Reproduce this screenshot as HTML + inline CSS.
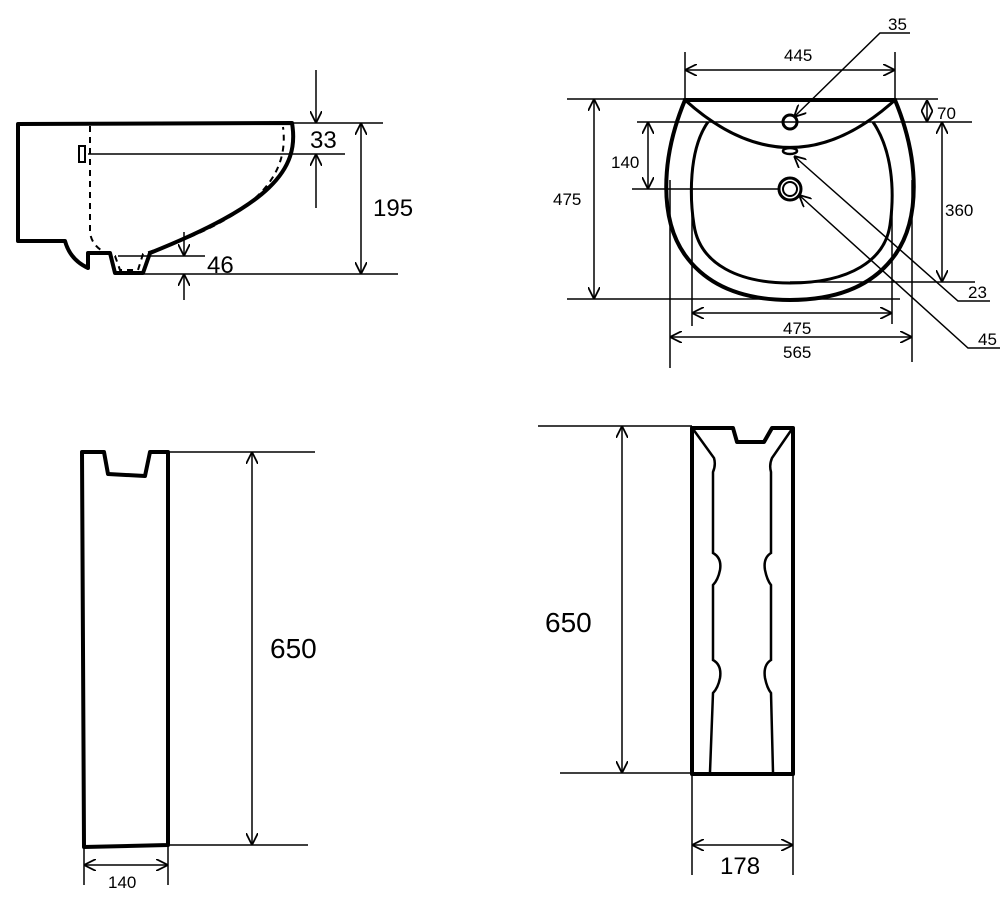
<!DOCTYPE html>
<html><head><style>body{margin:0;background:#fff}svg{display:block}text{font-family:"Liberation Sans",Arial,sans-serif;fill:#000}</style></head>
<body>
<svg width="1000" height="921" viewBox="0 0 1000 921" xmlns="http://www.w3.org/2000/svg">
<defs>
<marker id="a" viewBox="0 0 10 10" refX="10" refY="5" markerWidth="12" markerHeight="12" markerUnits="userSpaceOnUse" orient="auto-start-reverse"><path d="M0,0 L10,5 L0,10" fill="none" stroke="#000" stroke-width="1.5"/></marker>
</defs>
<g fill="none" stroke="#000">
<!-- Top-left side view -->
<path d="M18,124 L292,123 C300,170 270,205 150,253 L143,273 L115,273 L110,253 L88,253 L88,268 C75,262 68,252 65,241 L18,241 Z" stroke-width="4" stroke-linejoin="round"/>
<path d="M90,126 L90,232 Q92,250 115,256 L120,270 L138,270 L143,254 C250,220 290,180 283,127" stroke-width="2" stroke-dasharray="6,5"/>
<rect x="79" y="146" width="6" height="16" stroke-width="2"/>
<g stroke-width="1.5">
<line x1="88" y1="154" x2="345" y2="154"/>
<line x1="292" y1="123" x2="383" y2="123"/>
<line x1="140" y1="274" x2="398" y2="274"/>
<line x1="118" y1="256" x2="205" y2="256"/>
<line x1="316" y1="70" x2="316" y2="123" marker-end="url(#a)"/>
<line x1="316" y1="208" x2="316" y2="154" marker-end="url(#a)"/>
<line x1="361" y1="123" x2="361" y2="274" marker-start="url(#a)" marker-end="url(#a)"/>
<line x1="184" y1="232" x2="184" y2="256" marker-end="url(#a)"/>
<line x1="184" y1="300" x2="184" y2="274" marker-end="url(#a)"/>
</g>
<!-- Top-right plan view -->
<path d="M685,100 L895,100 C920,160 920,220 895,255 C870,290 830,300 790,300 C750,300 710,290 685,255 C660,220 660,160 685,100 Z" stroke-width="4"/>
<path d="M685,100 Q790,195 895,100" stroke-width="3"/>
<path d="M708,122 C688,150 690,200 694,225 C700,265 740,283 790,283 C850,283 885,260 890,225 C895,190 892,150 873,122" stroke-width="3"/>
<circle cx="790" cy="122" r="7" stroke-width="3"/>
<ellipse cx="790" cy="151" rx="7" ry="3" stroke-width="2.5"/>
<circle cx="790" cy="189" r="11" stroke-width="3"/>
<circle cx="790" cy="189" r="7" stroke-width="2"/>
<g stroke-width="1.5">
<line x1="685" y1="52" x2="685" y2="100"/>
<line x1="895" y1="52" x2="895" y2="100"/>
<line x1="685" y1="70" x2="895" y2="70" marker-start="url(#a)" marker-end="url(#a)"/>
<line x1="567" y1="99" x2="938" y2="99"/>
<line x1="567" y1="299" x2="900" y2="299"/>
<line x1="594" y1="99" x2="594" y2="299" marker-start="url(#a)" marker-end="url(#a)"/>
<line x1="637" y1="122" x2="972" y2="122"/>
<line x1="632" y1="189" x2="780" y2="189"/>
<line x1="648" y1="122" x2="648" y2="189" marker-start="url(#a)" marker-end="url(#a)"/>
<line x1="927" y1="100" x2="927" y2="122" marker-start="url(#a)" marker-end="url(#a)"/>
<line x1="790" y1="282" x2="975" y2="282"/>
<line x1="942" y1="122" x2="942" y2="282" marker-start="url(#a)" marker-end="url(#a)"/>
<polyline points="990,301 958,301 794,156" marker-end="url(#a)"/>
<polyline points="1000,348 968,348 799,195" marker-end="url(#a)"/>
<polyline points="910,33 880,33 794,117" marker-end="url(#a)"/>
<line x1="692" y1="190" x2="692" y2="326"/>
<line x1="892" y1="190" x2="892" y2="324"/>
<line x1="692" y1="313" x2="892" y2="313" marker-start="url(#a)" marker-end="url(#a)"/>
<line x1="670" y1="180" x2="670" y2="368"/>
<line x1="912" y1="180" x2="912" y2="362"/>
<line x1="670" y1="337" x2="912" y2="337" marker-start="url(#a)" marker-end="url(#a)"/>
</g>
<!-- Bottom-left pedestal -->
<path d="M82,452 L104,452 L108,474 L145,476 L150,452 L168,452 L168,845 L84,847 Z" stroke-width="4" stroke-linejoin="round"/>
<g stroke-width="1.5">
<line x1="168" y1="452" x2="315" y2="452"/>
<line x1="168" y1="845" x2="308" y2="845"/>
<line x1="252" y1="452" x2="252" y2="845" marker-start="url(#a)" marker-end="url(#a)"/>
<line x1="84" y1="845" x2="84" y2="885"/>
<line x1="168" y1="845" x2="168" y2="885"/>
<line x1="84" y1="865" x2="168" y2="865" marker-start="url(#a)" marker-end="url(#a)"/>
</g>
<!-- Bottom-right pedestal -->
<path d="M692,428 L733,428 L737,442 L764,442 L772,428 L793,428 L793,774 L692,774 Z" stroke-width="4" stroke-linejoin="round"/>
<path d="M693,429 L714,458 Q716,465 713,472 L713,553 Q722,558 720,570 Q718,580 713,585 L713,660 Q722,665 720,678 Q718,688 713,693 L710,772" stroke-width="2.5"/>
<path d="M792,429 L772,458 Q769,465 771,472 L771,553 Q763,558 765,570 Q767,580 771,585 L771,660 Q763,665 765,678 Q767,688 771,693 L773,772" stroke-width="2.5"/>
<g stroke-width="1.5">
<line x1="538" y1="426" x2="692" y2="426"/>
<line x1="560" y1="773" x2="692" y2="773"/>
<line x1="622" y1="426" x2="622" y2="773" marker-start="url(#a)" marker-end="url(#a)"/>
<line x1="692" y1="773" x2="692" y2="875"/>
<line x1="793" y1="773" x2="793" y2="875"/>
<line x1="692" y1="845" x2="793" y2="845" marker-start="url(#a)" marker-end="url(#a)"/>
</g>
</g>
<g font-size="24">
<text x="310" y="148">33</text>
<text x="373" y="216">195</text>
<text x="207" y="273">46</text>
<text x="270" y="658" font-size="28">650</text>
<text x="545" y="632" font-size="28">650</text>
<text x="720" y="874">178</text>
</g>
<g font-size="17">
<text x="784" y="61">445</text>
<text x="888" y="30">35</text>
<text x="937" y="119">70</text>
<text x="611" y="168">140</text>
<text x="553" y="205">475</text>
<text x="945" y="216">360</text>
<text x="968" y="298">23</text>
<text x="978" y="345">45</text>
<text x="783" y="334">475</text>
<text x="783" y="358">565</text>
<text x="108" y="888">140</text>
</g>
</svg>
</body></html>
